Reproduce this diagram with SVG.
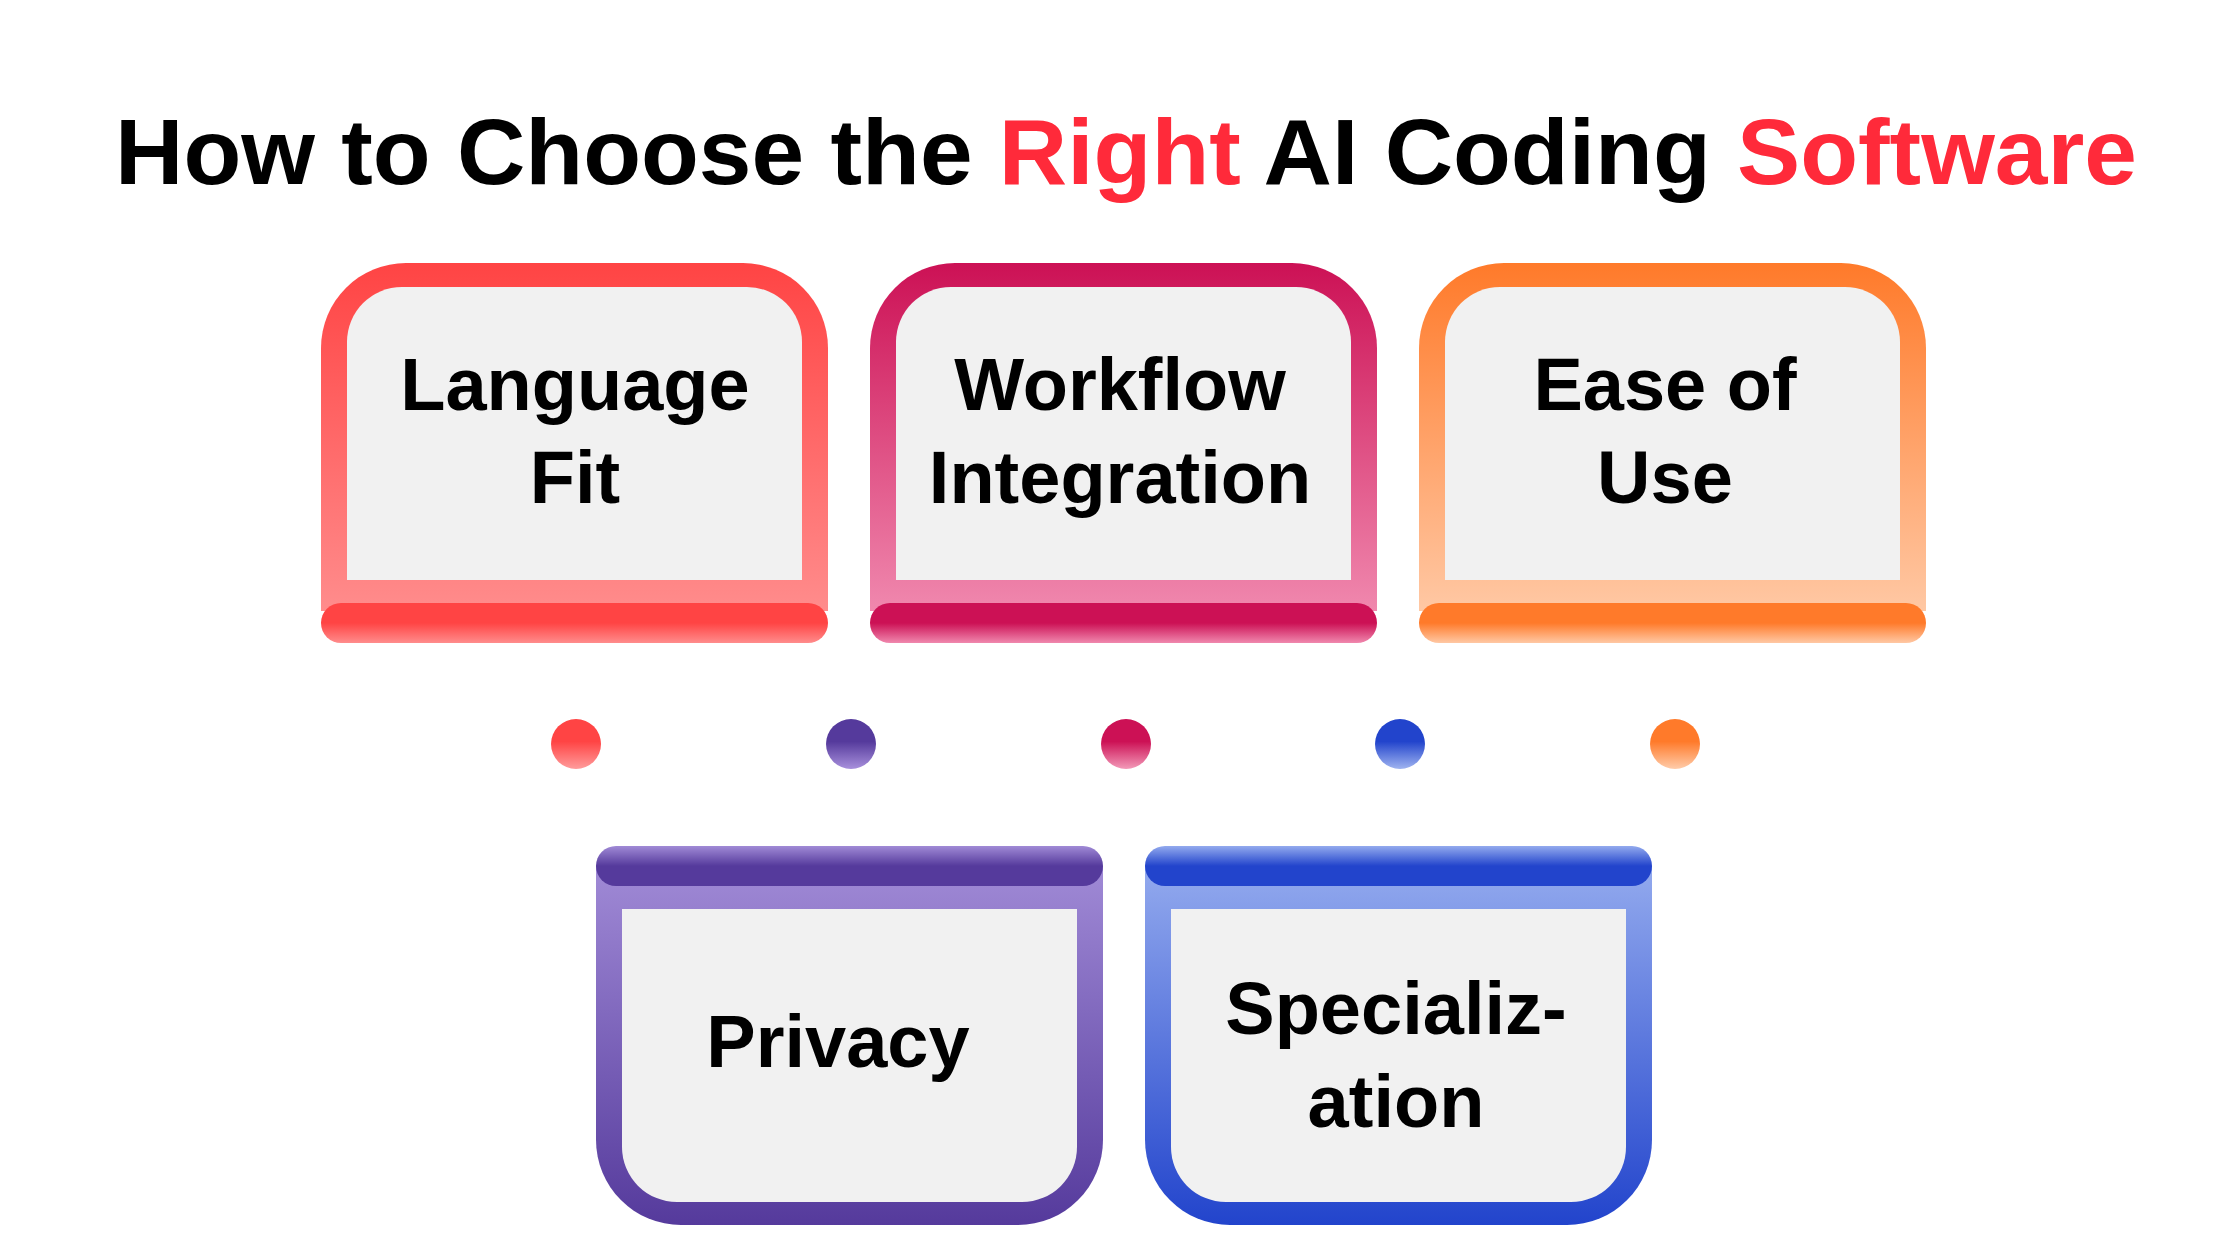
<svg xmlns="http://www.w3.org/2000/svg" width="2240" height="1260" viewBox="0 0 2240 1260">
<defs>
<linearGradient id="gR" x1="0" y1="0" x2="0" y2="1"><stop offset="0" stop-color="#FF4444"/><stop offset="1" stop-color="#FF8C8C"/></linearGradient>
<linearGradient id="gM" x1="0" y1="0" x2="0" y2="1"><stop offset="0" stop-color="#CC1155"/><stop offset="1" stop-color="#F088AE"/></linearGradient>
<linearGradient id="gO" x1="0" y1="0" x2="0" y2="1"><stop offset="0" stop-color="#FF7A2A"/><stop offset="1" stop-color="#FFC8A4"/></linearGradient>
<linearGradient id="gP" x1="0" y1="1" x2="0" y2="0"><stop offset="0" stop-color="#553A9C"/><stop offset="1" stop-color="#A08AD6"/></linearGradient>
<linearGradient id="gB" x1="0" y1="1" x2="0" y2="0"><stop offset="0" stop-color="#2244CC"/><stop offset="1" stop-color="#93AAEE"/></linearGradient>
<linearGradient id="bR" x1="0" y1="0" x2="0" y2="1"><stop offset="0.5" stop-color="#FF4444"/><stop offset="1" stop-color="#FF8C8C"/></linearGradient>
<linearGradient id="bM" x1="0" y1="0" x2="0" y2="1"><stop offset="0.5" stop-color="#CC1155"/><stop offset="1" stop-color="#F088AE"/></linearGradient>
<linearGradient id="bO" x1="0" y1="0" x2="0" y2="1"><stop offset="0.5" stop-color="#FF7A2A"/><stop offset="1" stop-color="#FFC8A4"/></linearGradient>
<linearGradient id="bP" x1="0" y1="1" x2="0" y2="0"><stop offset="0.5" stop-color="#553A9C"/><stop offset="1" stop-color="#A08AD6"/></linearGradient>
<linearGradient id="bB" x1="0" y1="1" x2="0" y2="0"><stop offset="0.5" stop-color="#2244CC"/><stop offset="1" stop-color="#93AAEE"/></linearGradient>
<linearGradient id="dR" x1="0" y1="0" x2="0" y2="1"><stop offset="0.45" stop-color="#FF4444"/><stop offset="1" stop-color="#FF9C9C"/></linearGradient>
<linearGradient id="dP" x1="0" y1="0" x2="0" y2="1"><stop offset="0.45" stop-color="#553A9C"/><stop offset="1" stop-color="#A890DC"/></linearGradient>
<linearGradient id="dM" x1="0" y1="0" x2="0" y2="1"><stop offset="0.45" stop-color="#CC1155"/><stop offset="1" stop-color="#F39AB9"/></linearGradient>
<linearGradient id="dB" x1="0" y1="0" x2="0" y2="1"><stop offset="0.45" stop-color="#2244CC"/><stop offset="1" stop-color="#A0B4F0"/></linearGradient>
<linearGradient id="dO" x1="0" y1="0" x2="0" y2="1"><stop offset="0.45" stop-color="#FF7A2A"/><stop offset="1" stop-color="#FFCCAA"/></linearGradient>
<path id="topOuter" d="M0,348 V85 A85,85 0 0 1 85,0 H422 A85,85 0 0 1 507,85 V348 Z"/>
<path id="topInner" d="M26,317 V79 A55,55 0 0 1 81,24 H426 A55,55 0 0 1 481,79 V317 Z"/>
<path id="botOuter" d="M0,0 V274 A85,85 0 0 0 85,359 H422 A85,85 0 0 0 507,274 V0 Z"/>
<path id="botInner" d="M26,43 V281 A55,55 0 0 0 81,336 H426 A55,55 0 0 0 481,281 V43 Z"/>
</defs>
<style>
.lbl{font-family:"Liberation Sans",Arial,sans-serif;font-weight:bold;font-size:74px;fill:#000;text-anchor:middle}
.ttl{font-family:"Liberation Sans",Arial,sans-serif;font-weight:bold;font-size:92px;fill:#000}
.red{fill:#FF2A3A}
.in{fill:#F1F1F1}
</style>
<rect width="2240" height="1260" fill="#fff"/>
<text class="ttl" x="115" y="184" textLength="2022" lengthAdjust="spacingAndGlyphs">How to Choose the <tspan class="red">Right</tspan> AI Coding <tspan class="red">Software</tspan></text>

<g id="node-language">
<use href="#topOuter" x="321" y="263" fill="url(#gR)"/>
<use href="#topInner" x="321" y="263" class="in"/>
<rect x="321" y="603" width="507" height="40" rx="20" fill="url(#bR)"/>
<text class="lbl" x="575" y="410">Language</text>
<text class="lbl" x="575" y="503">Fit</text>
</g>
<g id="node-workflow">
<use href="#topOuter" x="870" y="263" fill="url(#gM)"/>
<use href="#topInner" x="870" y="263" class="in"/>
<rect x="870" y="603" width="507" height="40" rx="20" fill="url(#bM)"/>
<text class="lbl" x="1120" y="410">Workflow</text>
<text class="lbl" x="1120" y="503">Integration</text>
</g>
<g id="node-ease">
<use href="#topOuter" x="1419" y="263" fill="url(#gO)"/>
<use href="#topInner" x="1419" y="263" class="in"/>
<rect x="1419" y="603" width="507" height="40" rx="20" fill="url(#bO)"/>
<text class="lbl" x="1665" y="410">Ease of</text>
<text class="lbl" x="1665" y="503">Use</text>
</g>
<g id="node-privacy">
<use href="#botOuter" x="596" y="866" fill="url(#gP)"/>
<use href="#botInner" x="596" y="866" class="in"/>
<rect x="596" y="846" width="507" height="40" rx="20" fill="url(#bP)"/>
<text class="lbl" x="838" y="1067">Privacy</text>
</g>
<g id="node-specialization">
<use href="#botOuter" x="1145" y="866" fill="url(#gB)"/>
<use href="#botInner" x="1145" y="866" class="in"/>
<rect x="1145" y="846" width="507" height="40" rx="20" fill="url(#bB)"/>
<text class="lbl" x="1396" y="1034">Specializ-</text>
<text class="lbl" x="1396" y="1127">ation</text>
</g>
<g id="connectors">
<circle cx="576" cy="744" r="25" fill="url(#dR)"/>
<circle cx="851" cy="744" r="25" fill="url(#dP)"/>
<circle cx="1126" cy="744" r="25" fill="url(#dM)"/>
<circle cx="1400" cy="744" r="25" fill="url(#dB)"/>
<circle cx="1675" cy="744" r="25" fill="url(#dO)"/>
</g>
</svg>
